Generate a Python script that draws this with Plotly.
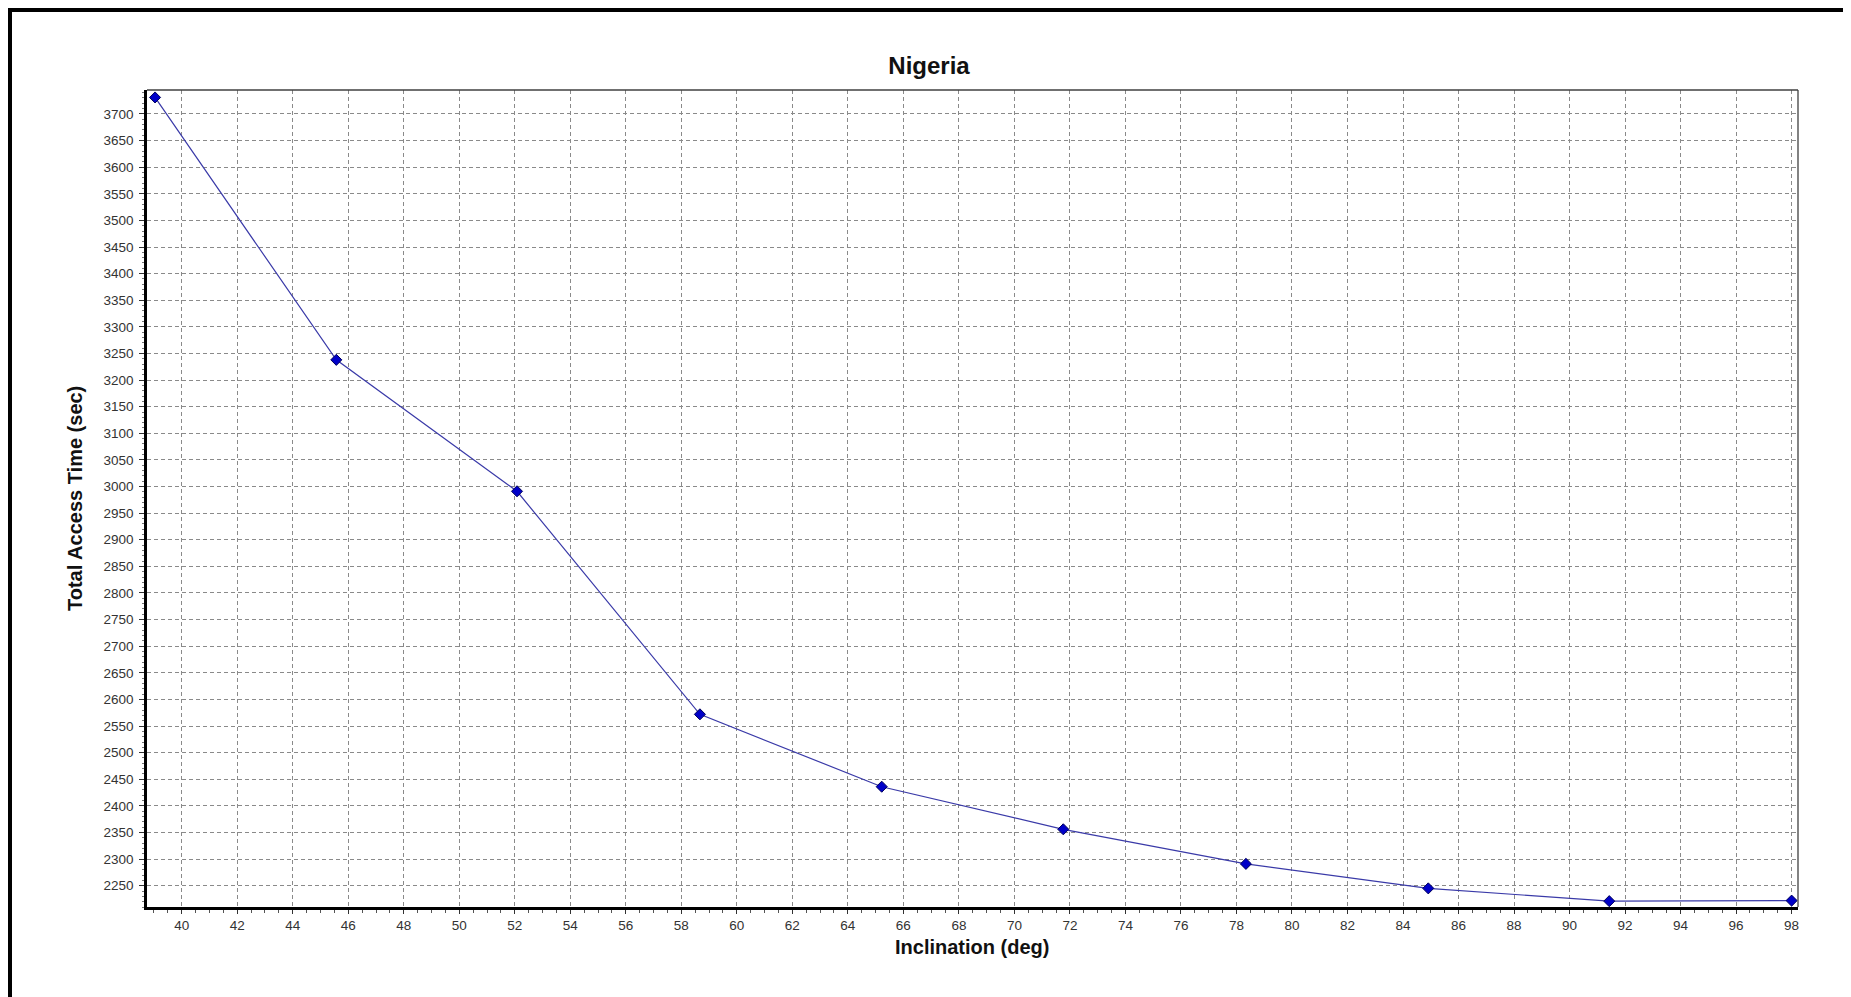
import plotly.graph_objects as go

# ---- data ----
inclination = [39.04, 45.57, 52.08, 58.67, 65.22, 71.76, 78.34, 84.91, 91.43, 98.0]
access_time = [3731, 3238, 2991, 2572, 2436, 2356, 2291, 2245, 2221, 2222]
title_text = "Nigeria"
x_title = "Inclination (deg)"
y_title = "Total Access Time (sec)"

# page places the figure at (8, 8); work in page pixels and convert
OFF = 8
W, H = 1851 - OFF, 997 - OFF
PL, PR, PT, PB = 147, 1798, 90, 907          # plot area in page pixels
L, R, T, B = PL - OFF, (W + OFF) - PR, PT - OFF, (H + OFF) - PB
PW, PH = PR - PL, PB - PT

def px_to_paper_x(px):
    return (px - PL) / PW

def px_to_paper_y(py):
    return (PB - py) / PH

FONT = "Liberation Sans, Arial, sans-serif"

fig = go.Figure()
fig.add_trace(go.Scatter(
    x=inclination, y=access_time, mode="lines+markers",
    line=dict(color="#3a3aa8", width=1.2),
    marker=dict(symbol="diamond", size=8.5, color="#0000c8",
                line=dict(color="#00005a", width=1)),
    showlegend=False, cliponaxis=False,
))

fig.update_layout(
    width=W, height=H,
    margin=dict(l=L, r=R, t=T, b=B, pad=0),
    paper_bgcolor="white", plot_bgcolor="white",
    font=dict(family=FONT, color="#333333", size=13.5),
    title=dict(text=title_text, xref="container", x=(929 - OFF) / W, xanchor="center",
               yref="container", y=1 - (66 - OFF) / H, yanchor="middle",
               font=dict(family=FONT, size=24, color="#111111", weight="bold")),
)

fig.update_xaxes(
    range=[38.75, 98.23], tickmode="linear", tick0=40, dtick=2,
    showgrid=True, gridcolor="#8a8a8a", gridwidth=1, griddash="4px,3px",
    showline=True, linecolor="black", linewidth=2.5,
    ticks="outside", ticklen=4, tickcolor="#333333", tickwidth=1,
    ticklabelstandoff=0, zeroline=False,
    tickfont=dict(family=FONT, size=13.5, color="#333333"),
    minor=dict(tick0=40, dtick=0.5, ticks="outside", ticklen=3,
               tickcolor="#555555", showgrid=False),
)
fig.update_yaxes(
    range=[2210, 3745], tickmode="linear", tick0=2250, dtick=50,
    showgrid=True, gridcolor="#8a8a8a", gridwidth=1, griddash="4px,3px",
    showline=True, linecolor="black", linewidth=2.5,
    ticks="outside", ticklen=5, tickcolor="#333333", tickwidth=1,
    ticklabelstandoff=3, zeroline=False,
    tickfont=dict(family=FONT, size=13.5, color="#333333"),
    minor=dict(tick0=2250, dtick=10, ticks="outside", ticklen=2,
               tickcolor="#777777", showgrid=False),
)

# axis titles
fig.add_annotation(text=x_title, xref="paper", yref="paper",
                   x=px_to_paper_x(972), y=px_to_paper_y(947),
                   xanchor="center", yanchor="middle", showarrow=False,
                   font=dict(family=FONT, size=20, color="#111111", weight="bold"))
fig.add_annotation(text=y_title, xref="paper", yref="paper",
                   x=px_to_paper_x(75), y=px_to_paper_y(499), textangle=-90,
                   xanchor="center", yanchor="middle", showarrow=False,
                   font=dict(family=FONT, size=20, color="#111111", weight="bold"))

# thin top/right plot borders
fig.add_shape(type="line", xref="x domain", yref="y domain", x0=0, x1=1, y0=1, y1=1,
              line=dict(color="#404040", width=1.3))
fig.add_shape(type="line", xref="x domain", yref="y domain", x0=1, x1=1, y0=0, y1=1,
              line=dict(color="#404040", width=1.3))

# outer black frame (top and left edges visible)
fig.add_shape(type="line", xref="paper", yref="paper",
              x0=px_to_paper_x(OFF - 2), x1=px_to_paper_x(W + OFF + 10),
              y0=px_to_paper_y(OFF + 1), y1=px_to_paper_y(OFF + 1),
              line=dict(color="black", width=6))
fig.add_shape(type="line", xref="paper", yref="paper",
              x0=px_to_paper_x(OFF + 1), x1=px_to_paper_x(OFF + 1),
              y0=px_to_paper_y(OFF - 2), y1=px_to_paper_y(H + OFF + 10),
              line=dict(color="black", width=6))

fig.write_html("out.html")
